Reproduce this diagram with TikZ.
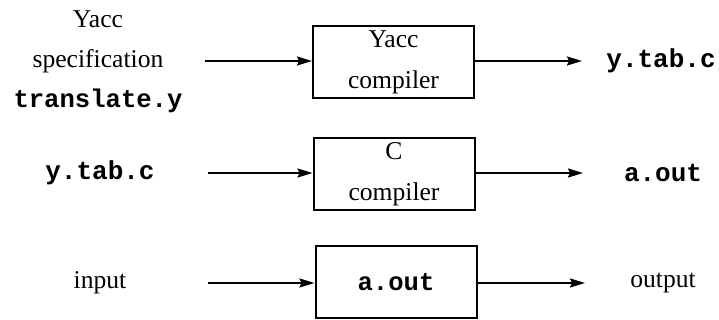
\documentclass[tikz,border=0pt]{standalone}
\usepackage{fontspec}
\setmainfont{Liberation Serif}
\setmonofont{Liberation Mono}
\usetikzlibrary{arrows.meta}
\tikzset{
  txt/.style={inner sep=0pt, align=center, font=\fontsize{25.6}{40}\selectfont},
  mono/.style={inner sep=0pt, font=\fontsize{26}{40}\selectfont\ttfamily\bfseries},
  procbox/.style={draw, line width=2pt, minimum width=161pt, minimum height=72pt, inner sep=0pt, align=center, font=\fontsize{25.6}{41}\selectfont},
  flow/.style={line width=2pt, -{Stealth[length=15pt,width=9pt,inset=2pt]}}
}
\begin{document}
\begin{tikzpicture}[x=1pt,y=-1pt]
\useasboundingbox (0,0) rectangle (719,320);
% left inputs
\node[txt] (spec) at (98,62) {Yacc\\specification\\{\ttfamily\bfseries translate.y}};
\node[mono] (ytab1) at (100,173) {y.tab.c};
\node[txt] (input) at (100,283) {input};
% boxes
\node[procbox] (yacc) at (393.5,62) {Yacc\\compiler};
\node[procbox] (cc) at (394,174) {C\\compiler};
\node[procbox] (aout) at (396,282) {\ttfamily\bfseries a.out};
% right outputs
\node[mono] (ytab2) at (661,61) {y.tab.c};
\node[mono] (aoutr) at (663,173) {a.out};
\node[txt] (output) at (663,283) {output};
% connector ends
\coordinate (s1) at (205,61);
\coordinate (s2) at (208,173);
\coordinate (s3) at (208,283);
\coordinate (e1) at (582,61);
\coordinate (e2) at (583,173);
\coordinate (e3) at (585,283);
\draw[flow] (s1) -- (s1 -| yacc.west);
\draw[flow] (yacc.east |- e1) -- (e1);
\draw[flow] (s2) -- (s2 -| cc.west);
\draw[flow] (cc.east |- e2) -- (e2);
\draw[flow] (s3) -- (s3 -| aout.west);
\draw[flow] (aout.east |- e3) -- (e3);
\end{tikzpicture}
\end{document}
